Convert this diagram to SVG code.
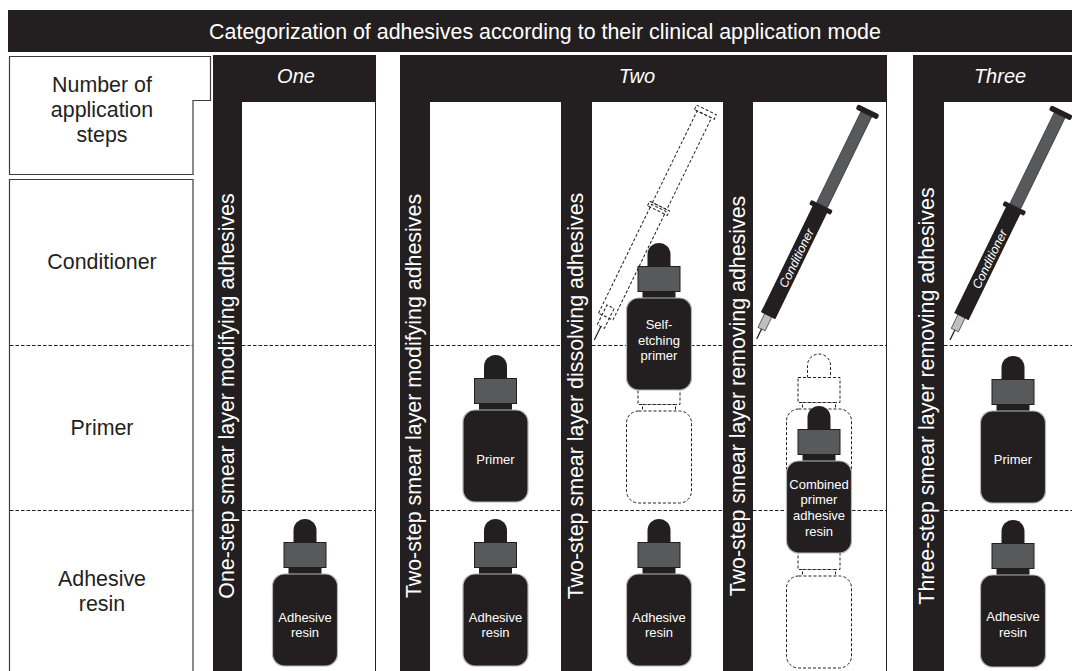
<svg xmlns="http://www.w3.org/2000/svg" width="1072" height="671" viewBox="0 0 1072 671">
  <style>
    .lbl{font-family:"Liberation Sans",Arial,sans-serif;font-size:21.4px;fill:#231f20;text-anchor:middle}
    .ttl{font-family:"Liberation Sans",Arial,sans-serif;font-size:21.4px;fill:#fff;text-anchor:middle}
    .vt{font-family:"Liberation Sans",Arial,sans-serif;font-size:21.4px;fill:#fff;text-anchor:middle}
    .hd{font-family:"Liberation Sans",Arial,sans-serif;font-size:20px;font-style:italic;fill:#fff;text-anchor:middle}
    .bt{font-family:"Liberation Sans",Arial,sans-serif;font-size:13px;fill:#fff;text-anchor:middle}
    .syr{font-family:"Liberation Sans",Arial,sans-serif;font-size:12.5px;font-style:italic;fill:#fff;text-anchor:middle}
    .frame{fill:#231f20}
    .panel{fill:#fff;stroke:#231f20;stroke-width:1}
    .row{fill:none;stroke:#231f20;stroke-width:1;stroke-dasharray:3.5 2}
    .box{fill:#fff;stroke:#3c3c3c;stroke-width:1.2}
    .ghost{fill:#fff;stroke:#231f20;stroke-width:1;stroke-dasharray:3 2}
    .ghost-line{fill:none;stroke:#231f20;stroke-width:1;stroke-dasharray:3 2}
  </style>
  <defs>
    <!-- dropper bottle, origin at top centre of the bulb -->
    <g id="bottle">
      <path d="M-11.5,24 V11.5 A11.5,11.5 0 0 1 11.5,11.5 V24 Z" fill="#231f20"/>
      <rect x="-21" y="23.5" width="42" height="25" fill="#58595b" stroke="#231f20" stroke-width="1"/>
      <rect x="-16.5" y="48.5" width="33" height="7" fill="#231f20"/>
      <rect x="-32.5" y="55" width="65" height="92" rx="12" fill="#231f20" stroke="#b3b5b7" stroke-width="1.2"/>
    </g>
    <!-- same bottle as a dashed outline -->
    <g id="bottle-ghost" class="ghost">
      <path d="M-11.5,24 V11.5 A11.5,11.5 0 0 1 11.5,11.5 V24 Z"/>
      <rect x="-21" y="23.5" width="42" height="25"/>
      <rect x="-16.5" y="48.5" width="33" height="7"/>
      <rect x="-32.5" y="55" width="65" height="92" rx="12"/>
    </g>
    <!-- syringe drawn along +x, needle tip at the origin -->
    <g id="syringe">
      <line x1="0" y1="0" x2="13" y2="0" stroke="#231f20" stroke-width="1.3"/>
      <rect x="11" y="-4" width="16" height="8" fill="#bcbec0" stroke="#231f20" stroke-width="0.6"/>
      <rect x="26" y="-8" width="121" height="16" fill="#231f20"/>
      <rect x="144" y="-12" width="5" height="24" rx="1.5" fill="#231f20"/>
      <rect x="149" y="-6" width="101" height="12" fill="#58595b" stroke="#231f20" stroke-width="0.6"/>
      <rect x="250" y="-12" width="5.5" height="24" rx="2" fill="#231f20"/>
    </g>
    <g id="syringe-ghost">
      <line x1="0" y1="0" x2="15" y2="0" stroke="#231f20" stroke-width="1.2"/>
      <rect class="ghost-line" x="15" y="-4" width="22" height="8"/>
      <rect class="ghost-line" x="26" y="-8" width="121" height="16"/>
      <rect class="ghost-line" x="144" y="-11" width="5" height="22"/>
      <rect class="ghost-line" x="149" y="-8" width="102" height="16"/>
      <rect class="ghost-line" x="251" y="-11" width="5" height="22"/>
    </g>
  </defs>

  <rect width="1072" height="671" fill="#fff"/>

  <!-- title bar -->
  <g id="title">
    <rect x="8" y="10" width="1070" height="42" class="frame"/>
    <text class="ttl" x="545" y="39">Categorization of adhesives according to their clinical application mode</text>
  </g>

  <!-- left header column -->
  <g id="row-labels">
    <path class="box" d="M9.5,56.5 H210.5 V100.5 H193 V174.5 H9.5 Z"/>
    <path class="box" d="M9.5,179.5 H193 V690 H9.5 Z"/>
    <line class="row" x1="10" y1="345.5" x2="192.5" y2="345.5"/>
    <line class="row" x1="10" y1="510.5" x2="192.5" y2="510.5"/>
    <text class="lbl" x="102" y="92">Number of</text>
    <text class="lbl" x="102" y="117">application</text>
    <text class="lbl" x="102" y="142">steps</text>
    <text class="lbl" x="102" y="269">Conditioner</text>
    <text class="lbl" x="102" y="435">Primer</text>
    <text class="lbl" x="102" y="586">Adhesive</text>
    <text class="lbl" x="102" y="611">resin</text>
  </g>

  <!-- column: one step -->
  <g id="col-one">
    <rect class="frame" x="213" y="55" width="163" height="630"/>
    <rect class="panel" x="241.5" y="101.5" width="134" height="590"/>
    <line class="row" x1="242" y1="345.5" x2="375" y2="345.5"/>
    <line class="row" x1="242" y1="510.5" x2="375" y2="510.5"/>
    <text class="hd" x="296" y="83">One</text>
    <text class="vt" transform="translate(234,396) rotate(-90)">One-step smear layer modifying adhesives</text>
  </g>

  <!-- column: two steps -->
  <g id="col-two">
    <rect class="frame" x="400" y="55" width="487" height="630"/>
    <rect class="panel" x="429.5" y="101.5" width="132" height="590"/>
    <rect class="panel" x="591.5" y="101.5" width="132" height="590"/>
    <rect class="panel" x="752.5" y="101.5" width="134" height="590"/>
    <line class="row" x1="430" y1="345.5" x2="561" y2="345.5"/>
    <line class="row" x1="430" y1="510.5" x2="561" y2="510.5"/>
    <line class="row" x1="592" y1="345.5" x2="723" y2="345.5"/>
    <line class="row" x1="592" y1="510.5" x2="723" y2="510.5"/>
    <line class="row" x1="753" y1="345.5" x2="886" y2="345.5"/>
    <line class="row" x1="753" y1="510.5" x2="886" y2="510.5"/>
    <text class="hd" x="637" y="83">Two</text>
    <text class="vt" transform="translate(421,396) rotate(-90)">Two-step smear layer modifying adhesives</text>
    <text class="vt" transform="translate(583,396) rotate(-90)">Two-step smear layer dissolving adhesives</text>
    <text class="vt" transform="translate(745,396) rotate(-90)">Two-step smear layer removing adhesives</text>
  </g>

  <!-- column: three steps -->
  <g id="col-three">
    <rect class="frame" x="913" y="55" width="170" height="630"/>
    <rect class="panel" x="943.5" y="101.5" width="140" height="590"/>
    <line class="row" x1="944" y1="345.5" x2="1072" y2="345.5"/>
    <line class="row" x1="944" y1="510.5" x2="1072" y2="510.5"/>
    <text class="hd" x="1000" y="83">Three</text>
    <text class="vt" transform="translate(934,396) rotate(-90)">Three-step smear layer removing adhesives</text>
  </g>

  <!-- dashed outlines of the omitted steps -->
  <g id="ghost-syringe-dissolving">
    <use href="#syringe-ghost" transform="translate(594.3,340) rotate(-64)"/>
  </g>
  <g id="ghost-bottle-dissolving">
    <use href="#bottle-ghost" x="659" y="356"/>
  </g>
  <g id="ghost-bottles-removing">
    <use href="#bottle-ghost" x="819" y="354"/>
    <use href="#bottle-ghost" x="819" y="521"/>
  </g>

  <!-- one step: adhesive resin -->
  <g id="one-adhesive">
    <use href="#bottle" x="305" y="519"/>
    <text class="bt" x="305" y="622">Adhesive</text>
    <text class="bt" x="305" y="637">resin</text>
  </g>

  <!-- two steps, modifying -->
  <g id="two-mod-primer">
    <use href="#bottle" x="495.5" y="355"/>
    <text class="bt" x="495.5" y="463.5">Primer</text>
  </g>
  <g id="two-mod-adhesive">
    <use href="#bottle" x="495.5" y="519"/>
    <text class="bt" x="495.5" y="622">Adhesive</text>
    <text class="bt" x="495.5" y="637">resin</text>
  </g>

  <!-- two steps, dissolving -->
  <g id="two-dis-primer">
    <use href="#bottle" x="659" y="243"/>
    <text class="bt" x="659" y="329">Self-</text>
    <text class="bt" x="659" y="345">etching</text>
    <text class="bt" x="659" y="360">primer</text>
  </g>
  <g id="two-dis-adhesive">
    <use href="#bottle" x="659" y="519"/>
    <text class="bt" x="659" y="622">Adhesive</text>
    <text class="bt" x="659" y="637">resin</text>
  </g>

  <!-- two steps, removing -->
  <g id="two-rem-conditioner">
    <use href="#syringe" transform="translate(756.7,339) rotate(-64)"/>
    <text class="syr" transform="translate(756.7,339) rotate(-64)" x="90" y="4.5">Conditioner</text>
  </g>
  <g id="two-rem-combined">
    <use href="#bottle" x="819" y="406"/>
    <text class="bt" x="819" y="488.5">Combined</text>
    <text class="bt" x="819" y="504">primer</text>
    <text class="bt" x="819" y="520">adhesive</text>
    <text class="bt" x="819" y="535.5">resin</text>
  </g>

  <!-- three steps -->
  <g id="three-conditioner">
    <use href="#syringe" transform="translate(950,340) rotate(-64)"/>
    <text class="syr" transform="translate(950,340) rotate(-64)" x="90" y="4.5">Conditioner</text>
  </g>
  <g id="three-primer">
    <use href="#bottle" x="1013" y="356"/>
    <text class="bt" x="1013" y="463.5">Primer</text>
  </g>
  <g id="three-adhesive">
    <use href="#bottle" x="1013" y="520"/>
    <text class="bt" x="1013" y="621">Adhesive</text>
    <text class="bt" x="1013" y="637">resin</text>
  </g>
</svg>
